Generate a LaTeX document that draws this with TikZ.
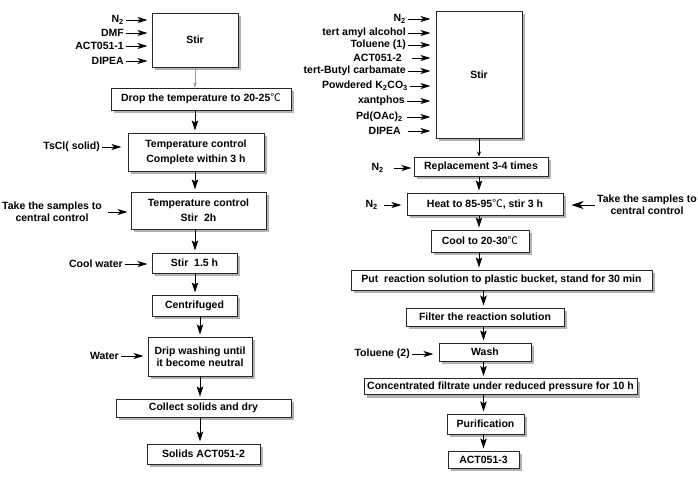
\documentclass[tikz,border=0pt]{standalone}
\usepackage{fontspec}
\setmainfont{Liberation Sans}
\newfontfamily\cjkfont{Noto Sans CJK SC}
\usetikzlibrary{arrows.meta}
\newcommand{\degc}{{\cjkfont\mdseries ℃}}

\begin{document}
\begin{tikzpicture}[
  x=1pt, y=-1pt,
  stepbox/.style={
    rectangle,
    draw=black!85,
    line width=1pt,
    fill=white,
    inner sep=0pt,
    align=center,
    font=\fontsize{10.5}{12}\selectfont\bfseries,
    preaction={fill=black!30, transform canvas={xshift=3pt, yshift=-3pt}}
  },
  input/.style={
    inner sep=2pt,
    align=center,
    font=\fontsize{10.5}{12}\selectfont\bfseries
  },
  feed/.style={
    -{Stealth[length=10pt,width=6pt,inset=2.5pt]},
    line width=0.9pt,
    shorten >=4pt
  },
  flow/.style={
    -{Stealth[length=10pt,width=6.5pt,inset=2pt]},
    line width=0.9pt,
    shorten >=2pt
  },
  thinflow/.style={
    -{Stealth[length=5pt,width=4pt]},
    line width=0.7pt
  }
]
\useasboundingbox (0,0) rectangle (698,483);

% Left column
\node[stepbox, minimum width=86pt, minimum height=54pt] (stirA) at (195,40) {Stir};
\node[stepbox, minimum width=180pt, minimum height=22pt] (drop) at (201,99) {Drop the temperature to 20-25\degc};
\node[stepbox, minimum width=136pt, minimum height=38pt] (tsctrl) at (196,152) {Temperature control\\[3pt]Complete within 3 h};
\node[stepbox, minimum width=135pt, minimum height=37pt] (stirctrl) at (198.5,210.5) {Temperature control\\[3pt]Stir\ \ 2h};
\node[stepbox, minimum width=85pt, minimum height=20pt] (stirB) at (194.5,263) {Stir\ \ 1.5 h};
\node[stepbox, minimum width=85pt, minimum height=21pt] (centri) at (194.5,305.5) {Centrifuged};
\node[stepbox, minimum width=104pt, minimum height=39pt] (drip) at (200,356.5) {Drip washing until\\it become neutral};
\node[stepbox, minimum width=175pt, minimum height=18pt] (collect) at (203.5,408) {Collect solids and dry};
\node[stepbox, minimum width=113pt, minimum height=20pt] (solids) at (203.5,454) {Solids ACT051-2};

% Left inputs
\node[input, anchor=east] (n2a) at (126,20) {N\textsubscript{2}};
\node[input, anchor=east] (dmf) at (126,33) {DMF};
\node[input, anchor=east] (act1) at (126,46) {ACT051-1};
\node[input, anchor=east] (dipeaA) at (126,61) {DIPEA};
\node[input, anchor=east] (tscl) at (102,147) {TsCl( solid)};
\node[input, anchor=east] (sampleA) at (104,212) {Take the samples to\\central control};
\node[input, anchor=east] (coolw) at (125,264) {Cool water};
\node[input, anchor=east] (water) at (121,356) {Water};

\draw[feed] (n2a) -- (n2a -| stirA.west);
\draw[feed] (dmf) -- (dmf -| stirA.west);
\draw[feed] (act1) -- (act1 -| stirA.west);
\draw[feed] (dipeaA) -- (dipeaA -| stirA.west);
\draw[feed, shorten >=6pt] (tscl) -- (tscl -| tsctrl.west);
\draw[feed, shorten >=3pt, shorten <=4pt] (sampleA) -- (sampleA -| stirctrl.west);
\draw[feed] (coolw) -- (coolw -| stirB.west);
\draw[feed] (water) -- (water -| drip.west);

% Left flow
\draw[thinflow, draw=black!40] (stirA.south) -- (stirA.south |- drop.north);
\draw[flow] (drop.south -| stirA) -- (tsctrl.north -| stirA);
\draw[flow] (tsctrl.south -| stirA) -- (stirctrl.north -| stirA);
\draw[flow] (stirctrl.south -| stirA) -- (stirB.north -| stirA);
\draw[flow] (stirB.south -| stirA) -- (centri.north -| stirA);
\draw[flow] (centri.south -| drip) -- (drip.north);
\draw[flow] (drip.south) -- (collect.north -| drip);
\draw[flow] (collect.south -| drip) -- (solids.north -| drip);

% Right column
\node[stepbox, minimum width=86pt, minimum height=127pt] (stirC) at (479,74.5) {Stir};
\node[stepbox, minimum width=134pt, minimum height=19pt] (replace) at (481,166.5) {Replacement 3-4 times};
\node[stepbox, minimum width=156pt, minimum height=22pt] (heat) at (485,204) {Heat to 85-95\degc, stir 3 h};
\node[stepbox, minimum width=98pt, minimum height=22pt] (cool) at (480,241) {Cool to 20-30\degc};
\node[stepbox, minimum width=301pt, minimum height=20pt] (bucket) at (501.5,280) {Put\ \ reaction solution to plastic bucket, stand for 30 min};
\node[stepbox, minimum width=158pt, minimum height=18pt] (filter) at (485,317) {Filter the reaction solution};
\node[stepbox, minimum width=92pt, minimum height=18pt] (wash) at (485,352) {Wash};
\node[stepbox, minimum width=273pt, minimum height=16pt] (conc) at (500.5,386.5) {Concentrated filtrate under reduced pressure for 10 h};
\node[stepbox, minimum width=77pt, minimum height=20pt] (purif) at (485.5,424) {Purification};
\node[stepbox, minimum width=71pt, minimum height=17pt] (act3) at (483.5,459.5) {ACT051-3};

% Right inputs
\node[input, anchor=east] (n2c) at (408,19) {N\textsubscript{2}};
\node[input, anchor=east] (amyl) at (408,33) {tert amyl alcohol};
\node[input, anchor=east] (tolA) at (408,45) {Toluene (1)};
\node[input, anchor=east] (act2) at (404,58) {ACT051-2};
\node[input, anchor=east] (boc) at (408,71) {tert-Butyl carbamate};
\node[input, anchor=east] (k2co3) at (410,86) {Powdered K\textsubscript{2}CO\textsubscript{3}};
\node[input, anchor=east] (xant) at (407,101) {xantphos};
\node[input, anchor=east] (pdoac) at (405,117) {Pd(OAc)\textsubscript{2}};
\node[input, anchor=east] (dipeaC) at (403,131) {DIPEA};
\node[input, anchor=east] (n2d) at (386,168) {N\textsubscript{2}};
\node[input, anchor=east] (n2e) at (380,205) {N\textsubscript{2}};
\node[input, anchor=west] (sampleC) at (595,205) {Take the samples to\\central control};
\node[input, anchor=east] (tolB) at (412,354) {Toluene (2)};

\draw[feed, shorten >=5pt] (n2c) -- (n2c -| stirC.west);
\draw[feed, shorten >=5pt] (amyl) -- (amyl -| stirC.west);
\draw[feed, shorten >=5pt] (tolA) -- (tolA -| stirC.west);
\draw[feed, shorten >=5pt, shorten <=8pt] (act2) -- (act2 -| stirC.west);
\draw[feed, shorten >=5pt] (boc) -- (boc -| stirC.west);
\draw[feed, shorten >=5pt] (k2co3) -- (k2co3 -| stirC.west);
\draw[feed, shorten >=5pt] (xant) -- (xant -| stirC.west);
\draw[feed, shorten >=5pt, shorten <=2pt] (pdoac) -- (pdoac -| stirC.west);
\draw[feed, shorten >=5pt, shorten <=5pt] (dipeaC) -- (dipeaC -| stirC.west);
\draw[feed, shorten >=2pt, shorten <=8pt] (n2d) -- (n2d -| replace.west);
\draw[feed, shorten >=5pt, shorten <=4pt] (n2e) -- (n2e -| heat.west);
\draw[-{Stealth[length=12pt,width=8pt,inset=3.5pt]}, line width=0.9pt, shorten >=8pt] (sampleC.west) -- (sampleC.west -| heat.east);
\draw[feed, shorten >=5pt] (tolB) -- (tolB -| wash.west);

% Right flow
\draw[thinflow] (stirC.south) -- (stirC.south |- replace.north);
\draw[flow] (replace.south -| stirC) -- (heat.north -| stirC);
\draw[flow] (heat.south -| stirC) -- (cool.north -| stirC);
\draw[flow] (cool.south -| stirC) -- (bucket.north -| stirC);
\draw[flow] (bucket.south -| act3) -- (filter.north -| act3);
\draw[flow] (filter.south -| act3) -- (wash.north -| act3);
\draw[flow] (wash.south -| act3) -- (conc.north -| act3);
\draw[flow] (conc.south -| act3) -- (purif.north -| act3);
\draw[flow] (purif.south -| act3) -- (act3.north);

\end{tikzpicture}
\end{document}
